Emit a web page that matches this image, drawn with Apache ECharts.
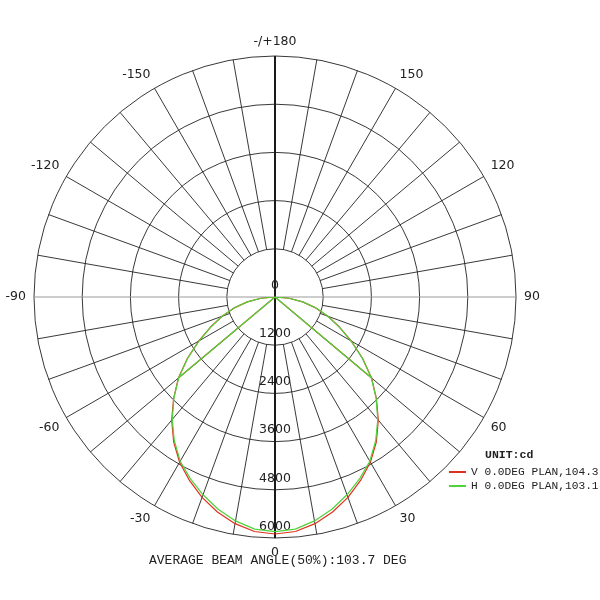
<!DOCTYPE html>
<html>
<head>
<meta charset="utf-8">
<script src="https://cdn.jsdelivr.net/npm/echarts@6/dist/echarts.min.js"></script>
<style>
html,body{margin:0;padding:0;background:#fff;}
#chart{width:600px;height:600px;}
</style>
</head>
<body>
<div id="chart"></div>
<script>
// Gamma angles (deg), negative = left half
var gammaAngles = [-90,-85,-80,-75,-70,-65,-60,-55,-50,-45,-40,-35,-30,-25,-20,-15,-10,-5,0,5,10,15,20,25,30,35,40,45,50,55,60,65,70,75,80,85,90];
// V 0.0DEG PLAN (red), cd
var vPlanValues = [0,350,700,1050,1400,1770,2190,2660,3140,3570,4000,4400,4750,5040,5310,5540,5730,5860,5900,5860,5730,5540,5310,5040,4750,4400,4000,3570,3140,2660,2190,1770,1400,1050,700,350,0];
// H 0.0DEG PLAN (green), cd
var hPlanValues = [0,350,700,1060,1400,1760,2180,2650,3130,3560,3980,4370,4720,4990,5240,5470,5660,5800,5840,5800,5660,5470,5240,4990,4720,4370,3980,3560,3130,2650,2180,1760,1400,1060,700,350,0];
// chord segments drawn from centre to these gamma angles
var chordAngles = [50, -50];
// angle tick labels every 30 deg starting at 0 (bottom), counter-clockwise
var angleTickLabels = ['0','30','60','90','120','150','-/+180','-150','-120','-90','-60','-30'];
var seriesNames = ['V 0.0DEG PLAN,104.3', 'H 0.0DEG PLAN,103.1'];
var unitText = 'UNIT:cd';
var footerText = 'AVERAGE BEAM ANGLE(50%):103.7 DEG';

function toAxisAngle(a){ return a < 0 ? a + 360 : a; }
function buildData(values){
  var d = [];
  for (var i = 0; i < gammaAngles.length; i++) d.push([values[i], toAxisAngle(gammaAngles[i])]);
  for (var k = 0; k < chordAngles.length; k++) {
    var idx = gammaAngles.indexOf(chordAngles[k]);
    d.push([values[idx], toAxisAngle(chordAngles[k])]);
    d.push([0, toAxisAngle(chordAngles[k])]);
  }
  return d;
}

var CX = 275, CY = 297, R = 241, R0 = R / 5;
var gridColor = '#222';
var spokeColors = ['rgba(0,0,0,0)'];
for (var s = 0; s < 8; s++) spokeColors.push(gridColor);

var chart = echarts.init(document.getElementById('chart'));
chart.setOption({
  animation: false,
  backgroundColor: '#fff',
  title: [
    {text: unitText, left: 480, top: 443, textStyle: {fontFamily: 'Liberation Mono', fontSize: 11.5, fontWeight: 'bold', color: '#222', lineHeight: 14}},
    {text: footerText, left: 144, top: 548, textStyle: {fontFamily: 'Liberation Mono', fontSize: 13, fontWeight: 'normal', color: '#222', lineHeight: 16}}
  ],
  legend: {
    orient: 'vertical', left: 443, top: 460, itemGap: 0, itemWidth: 17, itemHeight: 14,
    itemStyle: {opacity: 0},
    textStyle: {fontFamily: 'Liberation Mono', fontSize: 11.2, color: '#222', lineHeight: 14},
    data: seriesNames
  },
  polar: [
    {center: [CX, CY], radius: [R0, R]},
    {center: [CX, CY], radius: [0, R]},
    {center: [CX, CY], radius: [0, R]}
  ],
  angleAxis: [
    {polarIndex: 0, type: 'value', min: 0, max: 360, interval: 10, startAngle: 270, clockwise: false,
     axisLine: {show: false}, axisTick: {show: false},
     axisLabel: {margin: 8, color: '#222', fontSize: 12.5, fontFamily: 'DejaVu Sans',
       formatter: function(v){ if (v % 30 !== 0 || v >= 360) return ''; return angleTickLabels[v / 30]; }},
     splitLine: {show: true, lineStyle: {color: spokeColors, width: 0.9}}},
    {polarIndex: 1, type: 'value', min: 0, max: 360, interval: 90, startAngle: 270, clockwise: false,
     axisLine: {show: false}, axisTick: {show: false}, axisLabel: {show: false},
     splitLine: {show: true, lineStyle: {color: ['rgba(0,0,0,0)', '#9a9a9a'], width: 1}}},
    {polarIndex: 2, type: 'value', min: 0, max: 360, interval: 180, startAngle: 270, clockwise: false,
     axisLine: {show: false}, axisTick: {show: false}, axisLabel: {show: false},
     splitLine: {show: true, lineStyle: {color: '#1a1a1a', width: 2}}}
  ],
  radiusAxis: [
    {polarIndex: 0, type: 'value', min: 1200, max: 6000, interval: 1200,
     axisLine: {show: false}, axisTick: {show: false}, axisLabel: {show: false},
     splitLine: {show: true, lineStyle: {color: gridColor, width: 0.9}}},
    {polarIndex: 1, type: 'value', min: 0, max: 6000, interval: 1200,
     axisLine: {show: false}, axisTick: {show: false}, splitLine: {show: false},
     axisLabel: {show: true, margin: 0, align: 'center', verticalAlign: 'bottom', padding: [0, 0, 5, 0],
       color: '#222', fontSize: 12.5, fontFamily: 'DejaVu Sans',
       formatter: function(v){ return String(v); }}},
    {polarIndex: 2, type: 'value', min: 0, max: 6000, interval: 1200,
     axisLine: {show: false}, axisTick: {show: false}, splitLine: {show: false}, axisLabel: {show: false}}
  ],
  series: [
    {name: seriesNames[0], type: 'line', coordinateSystem: 'polar', polarIndex: 1, symbol: 'none',
     lineStyle: {color: '#e0301e', width: 1.2}, itemStyle: {color: '#e0301e'}, data: buildData(vPlanValues)},
    {name: seriesNames[1], type: 'line', coordinateSystem: 'polar', polarIndex: 1, symbol: 'none',
     lineStyle: {color: '#4fd23a', width: 1.2}, itemStyle: {color: '#4fd23a'}, data: buildData(hPlanValues)}
  ]
});
</script>
</body>
</html>
